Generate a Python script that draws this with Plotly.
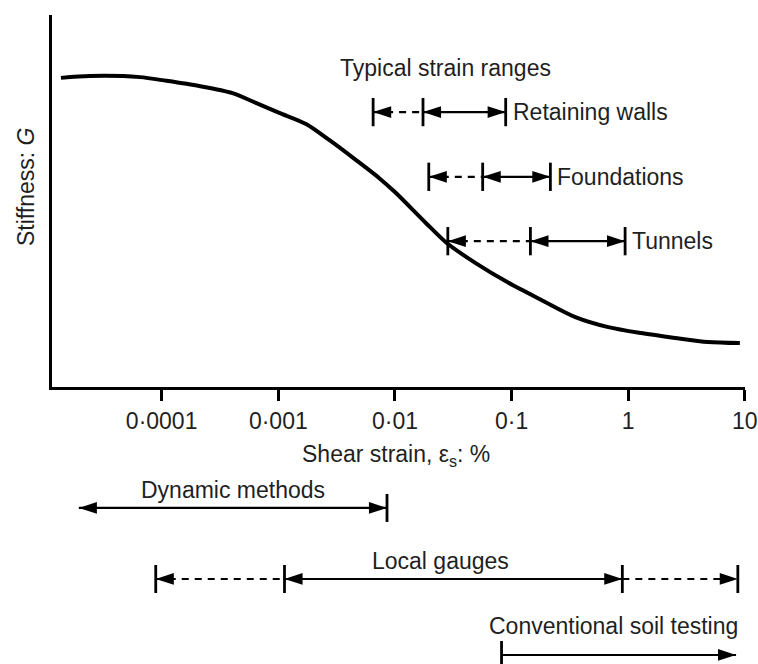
import numpy as np
import plotly.graph_objects as go

# ---------------- data ----------------
strain = [1.37e-5, 2.42e-5, 6.5e-5, 1.1e-4, 2.1e-4, 4.05e-4, 6.5e-4, 1.02e-3,
          1.73e-3, 2.73e-3, 4.64e-3, 7.3e-3, 0.01, 0.0184, 0.0278, 0.0492,
          0.0942, 0.18, 0.352, 0.675, 1.29, 2.52, 4.83, 9.06]
stiffness = [0.831, 0.836, 0.833, 0.823, 0.809, 0.790, 0.763, 0.737, 0.707,
             0.664, 0.610, 0.562, 0.524, 0.441, 0.387, 0.333, 0.280, 0.234,
             0.188, 0.161, 0.145, 0.132, 0.121, 0.118]

tick_vals = [1e-4, 1e-3, 1e-2, 1e-1, 1, 10]
tick_text = ["0·0001", "0·001", "0·01", "0·1", "1", "10"]

structures = ["Retaining walls", "Foundations", "Tunnels"]
struct_lo = [0.0065, 0.0195, 0.0284]   # start of dashed (possible) range
struct_mid = [0.0174, 0.0565, 0.145]   # start of firm range
struct_hi = [0.089, 0.215, 0.94]       # end of range

dynamic_range = [1.95e-5, 0.00855]
local_range = [8.9e-5, 0.00113, 0.89, 8.7]
conventional_range = [0.082, 8.4]

# ---------------- layout constants ----------------
W, H = 758, 664
ML, MR = 52, 11
FONT = "Liberation Sans, Arial, sans-serif"
TXT = "#1f1f1f"
FS = 23

main_rows = [0.739, 0.565, 0.392]     # y positions (main axes units)
main_h = 0.038
bot_rows = {"dyn": 0.848, "loc": 0.462, "conv": 0.049}
bot_h = 0.076

fig = go.Figure()

# main stiffness curve
fig.add_trace(go.Scatter(x=strain, y=stiffness, mode="lines",
                         line=dict(color="black", width=4, shape="spline", smoothing=0.8),
                         hoverinfo="skip", showlegend=False))


def bars(xs, ys, h, xa, ya):
    bx, by = [], []
    for x, y in zip(xs, ys):
        bx += [x, x, None]
        by += [y - h, y + h, None]
    fig.add_trace(go.Scatter(x=bx, y=by, mode="lines", xaxis=xa, yaxis=ya,
                             line=dict(color="black", width=2.8),
                             hoverinfo="skip", showlegend=False))


def seg(x0, x1, y, dash, xa, ya):
    fig.add_trace(go.Scatter(x=[x0, x1], y=[y, y], mode="lines", xaxis=xa, yaxis=ya,
                             line=dict(color="black", width=2.2, dash=dash),
                             hoverinfo="skip", showlegend=False))


def heads(xs, ys, angles, xa, ya):
    fig.add_trace(go.Scatter(x=xs, y=ys, mode="markers", xaxis=xa, yaxis=ya,
                             marker=dict(symbol="arrow", size=19, angle=angles,
                                         color="black", line=dict(width=0)),
                             cliponaxis=False, hoverinfo="skip", showlegend=False))


DASH = "7px,6px"

# typical strain ranges
for i, name in enumerate(structures):
    y = main_rows[i]
    seg(struct_lo[i], struct_mid[i], y, DASH, "x", "y")
    seg(struct_mid[i], struct_hi[i], y, "solid", "x", "y")
    bars([struct_lo[i], struct_mid[i], struct_hi[i]], [y] * 3, main_h, "x", "y")
    heads([struct_lo[i], struct_mid[i], struct_hi[i]], [y] * 3, [-90, -90, 90], "x", "y")

# dynamic methods
yd = bot_rows["dyn"]
seg(dynamic_range[0], dynamic_range[1], yd, "solid", "x2", "y2")
bars([dynamic_range[1]], [yd], bot_h, "x2", "y2")
heads(dynamic_range, [yd, yd], [-90, 90], "x2", "y2")

# local gauges
yl = bot_rows["loc"]
seg(local_range[0], local_range[1], yl, DASH, "x2", "y2")
seg(local_range[1], local_range[2], yl, "solid", "x2", "y2")
seg(local_range[2], local_range[3], yl, DASH, "x2", "y2")
bars(local_range, [yl] * 4, bot_h, "x2", "y2")
heads(local_range, [yl] * 4, [-90, -90, 90, 90], "x2", "y2")

# conventional soil testing
yc = bot_rows["conv"]
seg(conventional_range[0], conventional_range[1], yc, "solid", "x2", "y2")
bars([conventional_range[0]], [yc], bot_h, "x2", "y2")
heads([conventional_range[1]], [yc], [90], "x2", "y2")

xr = [-4.94, 1.001]
top_dom = [1 - 387 / H, 1 - 15 / H]
bot_dom = [0, 1 - 480 / H]

annotations = []
font = dict(family=FONT, size=FS, color=TXT)
PW = W - ML - MR

annotations.append(dict(text="Typical strain ranges", xref="paper", yref="y",
                        x=(447 - ML) / PW, y=0.8575, showarrow=False,
                        xanchor="center", yanchor="middle", font=font))
for i, name in enumerate(structures):
    annotations.append(dict(text=name, xref="x", yref="y", x=np.log10(struct_hi[i]),
                            y=main_rows[i], xshift=5, showarrow=False,
                            xanchor="left", yanchor="middle", font=font))

annotations.append(dict(text="Stiffness: <i>G</i>", xref="paper", yref="paper",
                        x=(26 - ML) / PW, y=1 - 187 / H, textangle=-90,
                        showarrow=False, xanchor="center", yanchor="middle", font=font))
annotations.append(dict(text="Shear strain, ε<sub>s</sub>: %", xref="paper", yref="paper",
                        x=(397 - ML) / PW, y=1 - 455 / H,
                        showarrow=False, xanchor="center", yanchor="middle", font=font))
annotations.append(dict(text="Dynamic methods", xref="x2", yref="y2",
                        x=np.log10(np.sqrt(dynamic_range[0] * dynamic_range[1])),
                        y=0.946, showarrow=False, xanchor="center", yanchor="middle", font=font))
annotations.append(dict(text="Local gauges", xref="paper", yref="y2",
                        x=(442 - ML) / PW, y=(664 - 561) / 184,
                        showarrow=False, xanchor="center", yanchor="middle", font=font))
annotations.append(dict(text="Conventional soil testing", xref="paper", yref="y2",
                        x=(742 - ML) / PW, y=(664 - 626) / 184,
                        showarrow=False, xanchor="right", yanchor="middle", font=font))

fig.update_layout(
    width=W, height=H,
    margin=dict(l=ML, r=MR, t=0, b=0, pad=0),
    paper_bgcolor="white", plot_bgcolor="white",
    showlegend=False,
    font=font,
    xaxis=dict(type="log", range=xr, domain=[0, 1], anchor="y",
               tickvals=tick_vals, ticktext=tick_text, ticks="outside",
               ticklen=11, tickwidth=3, tickcolor="black",
               showline=True, linewidth=3, linecolor="black",
               showgrid=False, zeroline=False, tickfont=font,
               ticklabelstandoff=0, ticklabeloverflow="allow"),
    yaxis=dict(range=[0, 1], domain=top_dom, anchor="x", showline=True,
               linewidth=3, linecolor="black", showticklabels=False,
               ticks="", showgrid=False, zeroline=False),
    xaxis2=dict(type="log", range=xr, domain=[0, 1], anchor="y2", matches="x",
                visible=False, showgrid=False),
    yaxis2=dict(range=[0, 1], domain=bot_dom, anchor="x2", visible=False,
                showgrid=False),
    annotations=annotations,
)

fig.write_html("out.html", config={"displayModeBar": False})
